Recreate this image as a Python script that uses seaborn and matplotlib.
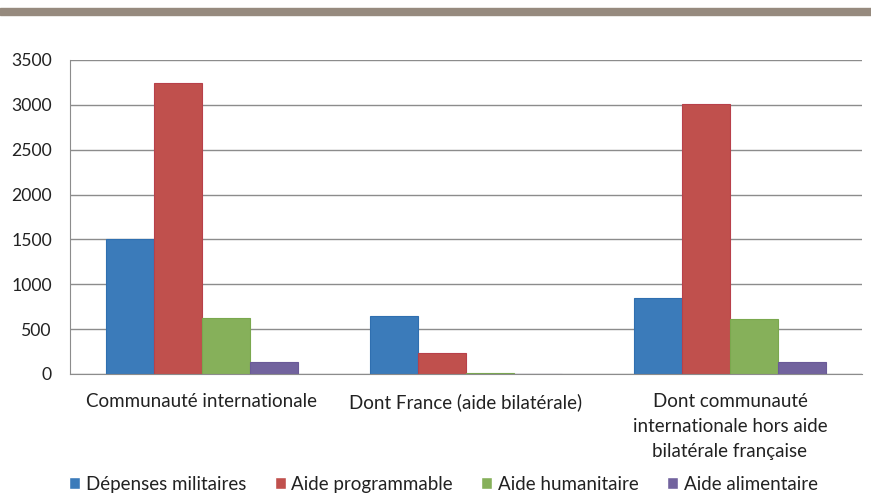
import pandas as pd
import matplotlib.pyplot as plt
import seaborn as sns

# Aide internationale par type
categories = ['Communauté internationale',
              'Dont France (aide bilatérale)',
              'Dont communauté\ninternationale hors aide\nbilatérale française']
series = ['Dépenses militaires', 'Aide programmable', 'Aide humanitaire', 'Aide alimentaire']
depenses_militaires = [1500, 650, 845]
aide_programmable = [3240, 235, 3010]
aide_humanitaire = [625, 10, 615]
aide_alimentaire = [135, 0, 135]

colors = ['#3b7bba', '#c0504d', '#86b05a', '#72639e']
edges = ['#2f6fb0', '#b8404a', '#7aa84e', '#6a5a98']

rows = []
for s, vals in zip(series, [depenses_militaires, aide_programmable,
                            aide_humanitaire, aide_alimentaire]):
    for c, v in zip(categories, vals):
        rows.append({'cat': c, 'serie': s, 'val': v})
data = pd.DataFrame(rows)

sns.set_style('white')
plt.rcParams['font.family'] = ['Lato', 'DejaVu Sans']

fig = plt.figure(figsize=(8.71, 5), dpi=100)
ax = fig.add_axes([70 / 871, 1 - 374 / 500, 792 / 871, 314 / 500])

ax = sns.barplot(data=data, x='cat', y='val', hue='serie', hue_order=series,
                 palette=colors, width=0.727, gap=0, saturation=1, ax=ax)
for i, cont in enumerate(ax.containers):
    for bar in cont:
        bar.set_edgecolor(edges[i])
        bar.set_linewidth(0.8)

ax.set_ylim(0, 3500)
ax.set_xlim(-0.5, 2.5)
ax.set_yticks(range(0, 3501, 500))
ax.yaxis.grid(True, color='#8c8c8c', linewidth=1)
ax.set_axisbelow(True)
ax.set_xlabel('')
ax.set_ylabel('')

for side in ['top', 'right']:
    ax.spines[side].set_visible(False)
ax.spines['left'].set_color('#8c8c8c')
ax.spines['bottom'].set_color('#8c8c8c')

# x ticks at category boundaries, labels centred in between
ax.set_xticks([-0.5, 0.5, 1.5, 2.5])
ax.set_xticklabels([])
ax.set_xticks([0, 1, 2], minor=True)
ax.set_xticklabels(categories, minor=True, fontsize=13.5, color='#222222',
                   linespacing=1.55, va='top')
ax.tick_params(axis='x', which='major', length=6, color='#8c8c8c', direction='out')
ax.tick_params(axis='x', which='minor', length=0, pad=14)
ax.tick_params(axis='y', length=7, color='#8c8c8c', labelsize=12.7,
               labelcolor='#222222', pad=6)

leg = ax.legend(loc='upper center', bbox_to_anchor=(0.4716, -0.312), ncol=4, frameon=False,
                fontsize=13.5, handlelength=0.6, handleheight=0.6, handletextpad=0.3,
                columnspacing=1.5, borderaxespad=0, borderpad=0.2)
for t in leg.get_texts():
    t.set_color('#222222')

# bandeau gris en haut
fig.patches.append(plt.Rectangle((0, 1 - 15 / 500), 1, 7 / 500, transform=fig.transFigure,
                                 color='#968a7e', zorder=0))

fig.savefig('out.png', dpi=100)
